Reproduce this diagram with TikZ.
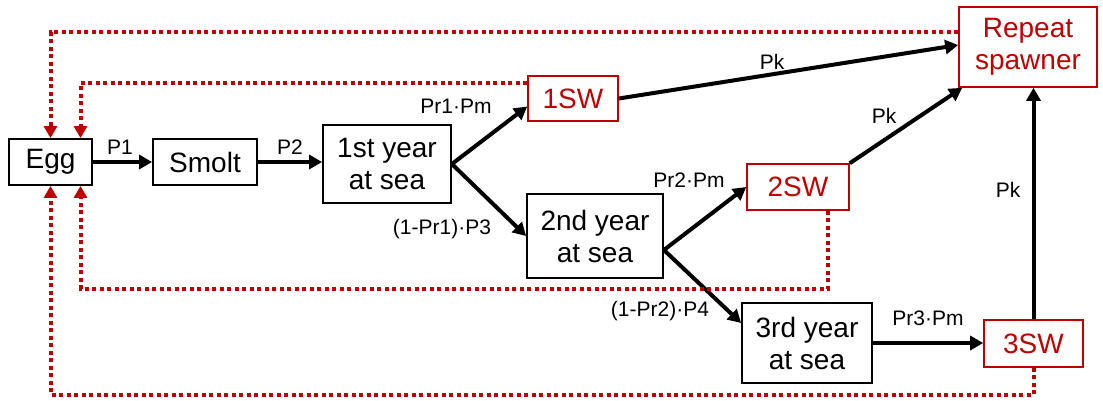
\documentclass[tikz,border=0pt]{standalone}
\usepackage{fontspec}
\setmainfont{Liberation Sans}
\usetikzlibrary{arrows.meta}
\definecolor{dred}{RGB}{192,0,0}
\begin{document}
\begin{tikzpicture}[x=1pt,y=-1pt,
  box/.style={draw=black,line width=1.8pt,inner sep=0pt,align=center,font=\fontsize{28}{32}\selectfont},
  rbox/.style={draw=dred,line width=1.6pt,inner sep=0pt,align=center,text=dred,font=\fontsize{28}{32}\selectfont},
  arr/.style={line width=4pt,-{Triangle[length=13pt,width=14pt]}},
  dotln/.style={draw=dred,line width=4pt,dash pattern=on 4pt off 3.5pt,-{Triangle[length=12pt,width=13pt]}},
  lbl/.style={inner sep=0pt,font=\fontsize{21}{24}\selectfont}]
\useasboundingbox (0,0) rectangle (1103,400);
% boxes
\node[box,minimum width=83pt,minimum height=46pt] (egg) at (50.5,162) {Egg};
\node[box,minimum width=104pt,minimum height=46pt] (smolt) at (205,162) {Smolt};
\node[box,minimum width=128pt,minimum height=78pt] (y1) at (387,164) {1st year\\at sea};
\node[rbox,minimum width=90pt,minimum height=45pt] (sw1) at (573,98.5) {1SW};
\node[box,minimum width=136pt,minimum height=84pt] (y2) at (595,236) {2nd year\\at sea};
\node[rbox,minimum width=102pt,minimum height=46pt] (sw2) at (798,187) {2SW};
\node[box,minimum width=130pt,minimum height=80pt] (y3) at (807,343) {3rd year\\at sea};
\node[rbox,minimum width=99pt,minimum height=47pt] (sw3) at (1033.5,343.5) {3SW};
\node[rbox,minimum width=138pt,minimum height=80pt] (rep) at (1028,47) {Repeat\\spawner};
% arrows
\draw[arr] (egg.east) -- (egg.east -| smolt.west);
\draw[arr] (smolt.east) -- (smolt.east -| y1.west);
\draw[arr] (y1.east) -- ([yshift=-8pt]sw1.west);
\draw[arr] (y1.east) -- (y2.west);
\draw[arr] (sw1.east) -- ([yshift=2pt]rep.west);
\draw[arr] (sw2.north east) -- ([xshift=4pt]rep.south west);
\draw[arr] ([yshift=-14pt]y2.east) -- (sw2.west);
\draw[arr] ([yshift=-14pt]y2.east) -- ([yshift=20pt]y3.west);
\draw[arr] (y3.east) -- (y3.east -| sw3.west);
\draw[arr] (sw3.north) -- (sw3.north |- rep.south);
% labels
\node[lbl] (lp1) at (120,147) {P1};
\node[lbl] (lp2) at (290,147) {P2};
\node[lbl] (lpr1) at (456,106) {Pr1·Pm};
\node[lbl] (lq1) at (442,229) {(1-Pr1)·P3};
\node[lbl] (lk1) at (772,62) {Pk};
\node[lbl] (lk2) at (884,116) {Pk};
\node[lbl] (lk3) at (1008,190) {Pk};
\node[lbl] (lpr2) at (689,180) {Pr2·Pm};
\node[lbl] (lq2) at (660,311) {(1-Pr2)·P4};
\node[lbl] (lpr3) at (928,318) {Pr3·Pm};
% dotted return paths
\draw[dotln] ([yshift=15pt]rep.west) -| (egg.north);
\draw[dotln] ([yshift=15.5pt]sw1.west) -| ([xshift=30pt]egg.north);
\draw[dotln] ([xshift=30pt]sw2.south) -- ++(0,78) -| ([xshift=30pt]egg.south);
\draw[dotln] (sw3.south) -- ++(0,27) -| (egg.south);
\end{tikzpicture}
\end{document}
